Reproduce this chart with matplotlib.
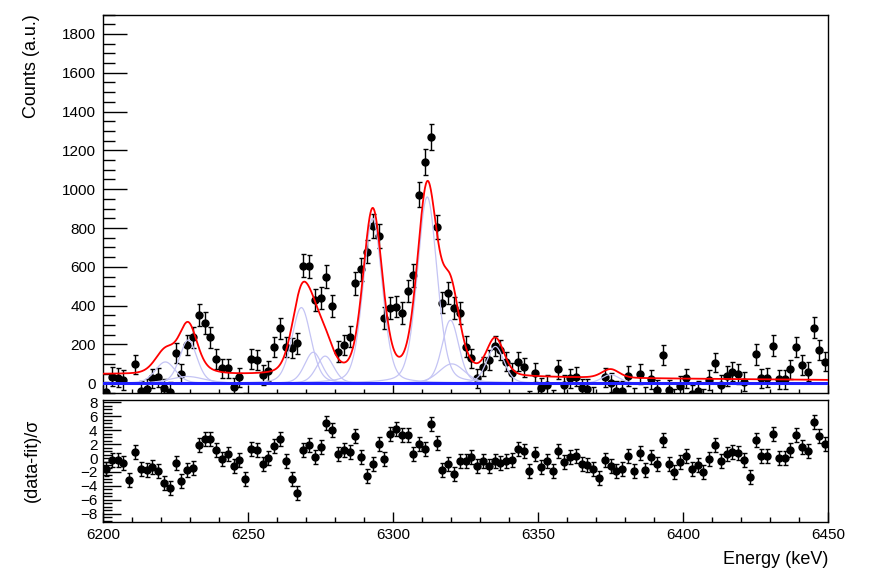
import numpy as np
import matplotlib
matplotlib.use("Agg")
import matplotlib.pyplot as plt
from matplotlib.ticker import MultipleLocator

plt.rcParams['font.family'] = ['Liberation Sans', 'DejaVu Sans']

# __ histogram: 2 keV bins, 6200-6450 keV __
bin_lo = 6200
bin_width = 2
counts = [
    -43, 34, 29, 17, -110, 98, -38, -29, 26, 31,
    -26, -45, 155, 50, 197, 237, 352, 309, 237, 125,
    77, 77, -21, 31, -100, 125, 120, 43, 63, 186,
    283, 186, 181, 206, 606, 604, 429, 438, 550, 398,
    163, 197, 240, 515, 588, 678, 811, 761, 335, 387,
    395, 364, 477, 557, 971, 1139, 1271, 804, 416, 467,
    387, 361, 189, 129, 26, 86, 120, 192, 172, 111,
    52, 111, 82, -90, 55, -23, -9, -85, 72, -9,
    26, 34, -26, -29, -70, -120, 31, 3, -38, -38,
    38, -75, 48, -70, 21, -34, 146, -34, -80, -14,
    26, -57, -38, -80, 17, 106, -9, 38, 60, 48,
    9, -115, 149, 26, 29, 194, 21, 21, 72, 186,
    94, 60, 287, 172, 111,
]
count_err = [
    50, 50, 50, 50, 50, 50, 50, 50, 50, 50,
    50, 50, 53, 50, 53, 53, 56, 56, 53, 50,
    50, 50, 50, 50, 50, 50, 50, 50, 50, 53,
    53, 53, 53, 53, 59, 59, 56, 56, 59, 56,
    53, 53, 53, 59, 59, 59, 62, 62, 56, 56,
    56, 56, 56, 59, 65, 66, 67, 62, 56, 56,
    56, 56, 53, 50, 50, 50, 50, 53, 53, 50,
    50, 50, 50, 50, 50, 50, 50, 50, 50, 50,
    50, 50, 50, 50, 50, 50, 50, 50, 50, 50,
    50, 50, 50, 50, 50, 50, 50, 50, 50, 50,
    50, 50, 50, 50, 50, 50, 50, 50, 50, 50,
    50, 50, 53, 50, 50, 53, 50, 50, 50, 53,
    50, 50, 53, 53, 50,
]
residuals = [
    -1.62, -0.23, -0.33, -0.71, -3.1, 0.82, -1.62, -1.67, -1.29, -1.86,
    -3.54, -4.26, -0.76, -3.35, -1.77, -1.43, 1.92, 2.78, 2.69, 1.20,
    -0.14, 0.58, -1.19, -0.28, -2.96, 1.35, 1.11, -0.86, 0.0, 1.68,
    2.78, -0.47, -3.06, -5.02, 1.20, 1.82, 0.15, 1.59, 5.08, 3.98,
    0.63, 1.11, 0.87, 3.17, 0.10, -2.58, -0.91, 1.97, -0.19, 3.5,
    4.22, 3.26, 3.26, 0.53, 1.97, 1.35, 4.94, 2.16, -1.77, -0.91,
    -2.25, -0.43, -0.47, 0.15, -1.19, -0.47, -1.19, -0.47, -0.71, -0.47,
    -0.33, 1.35, 1.01, -1.91, 0.63, -1.29, -0.47, -1.86, 1.01, -0.57,
    0.15, 0.34, -0.91, -0.95, -1.62, -2.87, -0.33, -1.19, -1.91, -1.58,
    0.24, -1.86, 0.72, -1.77, 0.15, -0.91, 2.54, -0.91, -2.0, -0.57,
    0.24, -1.53, -1.05, -2.0, -0.19, 1.82, -0.43, 0.53, 0.87, 0.72,
    -0.23, -2.73, 2.54, 0.24, 0.24, 3.5, 0.0, 0.0, 1.1, 3.35,
    1.59, 1.01, 5.17, 3.12, 1.97,
]

# __ fit model: pseudo-voigt peaks on a linear background __
peak_centres = [6221.5, 6229.4, 6229.0, 6268.4, 6272.5, 6276.6, 6293.0, 6311.8, 6319.8, 6320.3, 6335.3, 6375.0]
peak_heights = [110, 223, 35, 390, 160, 140, 850, 960, 325, 100, 190, 45]
peak_sigmas = [3.5, 3.0, 6.0, 3.3, 3.0, 3.0, 3.3, 3.4, 2.9, 4.5, 3.0, 3.0]
peak_lorentz_frac = 0.25
bg_at_start = 46
bg_slope = -0.116


def peak_shape(e, c, h, s):
    g = np.exp(-0.5 * ((e - c) / s) ** 2)
    gamma = s * 1.1774
    lor = 1.0 / (1.0 + ((e - c) / gamma) ** 2)
    return h * ((1 - peak_lorentz_frac) * g + peak_lorentz_frac * lor)


def main():
    energy = bin_lo + bin_width * (np.arange(len(counts)) + 0.5)
    e_fine = np.linspace(6200, 6450, 2500)
    comps = [peak_shape(e_fine, c, h, s) for c, h, s in zip(peak_centres, peak_heights, peak_sigmas)]
    total = bg_at_start + bg_slope * (e_fine - 6200) + np.sum(comps, axis=0)

    fig = plt.figure(figsize=(8.7, 5.71), dpi=100)
    ax = fig.add_axes([103 / 870, 1 - 393 / 571, 725 / 870, 378.5 / 571])
    axr = fig.add_axes([103 / 870, 1 - 522 / 571, 725 / 870, 122 / 571])

    # __ top panel __
    ax.errorbar(energy, counts, yerr=count_err, fmt='o', color='black', ms=5,
                elinewidth=1, capsize=1.8, capthick=1, zorder=2)
    for comp in comps:
        ax.plot(e_fine, comp, color='#c4c4f4', lw=0.9, zorder=3)
    ax.axhline(0, color='#2020ff', lw=2.2, zorder=3)
    ax.plot(e_fine, total, color='#ff0000', lw=1.3, zorder=4)

    ax.set_xlim(6200, 6450)
    ax.set_ylim(-50, 1900)
    ax.yaxis.set_major_locator(MultipleLocator(200))
    ax.yaxis.set_minor_locator(MultipleLocator(50))
    ax.xaxis.set_major_locator(MultipleLocator(50))
    ax.xaxis.set_minor_locator(MultipleLocator(10))
    ax.tick_params(axis='y', which='major', direction='in', length=17, width=1, labelsize=11, pad=5)
    ax.tick_params(axis='y', which='minor', direction='in', length=8.5, width=1)
    ax.tick_params(axis='x', which='major', direction='in', length=6, width=1, labelbottom=False)
    ax.tick_params(axis='x', which='minor', direction='in', length=3, width=1)

    # __ residual panel __
    axr.errorbar(energy, residuals, yerr=1.0, fmt='o', color='black', ms=5,
                 elinewidth=1, capsize=1.8, capthick=1)
    axr.set_xlim(6200, 6450)
    axr.set_ylim(-9.2, 8.35)
    axr.yaxis.set_major_locator(MultipleLocator(2))
    axr.yaxis.set_minor_locator(MultipleLocator(0.5))
    axr.xaxis.set_major_locator(MultipleLocator(50))
    axr.xaxis.set_minor_locator(MultipleLocator(10))
    axr.tick_params(axis='y', which='major', direction='in', length=13, width=1, labelsize=11, pad=4)
    axr.tick_params(axis='y', which='minor', direction='in', length=6.5, width=1)
    axr.tick_params(axis='x', which='major', direction='in', length=7, width=1, labelsize=11, pad=4)
    axr.tick_params(axis='x', which='minor', direction='in', length=3.5, width=1)

    for a in (ax, axr):
        for sp in a.spines.values():
            sp.set_linewidth(1)

    fig.text(32 / 870, 1 - 14 / 571, 'Counts (a.u.)', rotation=90, ha='center', va='top', fontsize=13)
    fig.text(32 / 870, 1 - 460 / 571, '(data-fit)/σ', rotation=90, ha='center', va='center', fontsize=13)
    fig.text(828 / 870, 1 - 560 / 571, 'Energy (keV)', ha='right', va='center', fontsize=13)

    fig.savefig('out.png', dpi=100)


if __name__ == '__main__':
    main()
